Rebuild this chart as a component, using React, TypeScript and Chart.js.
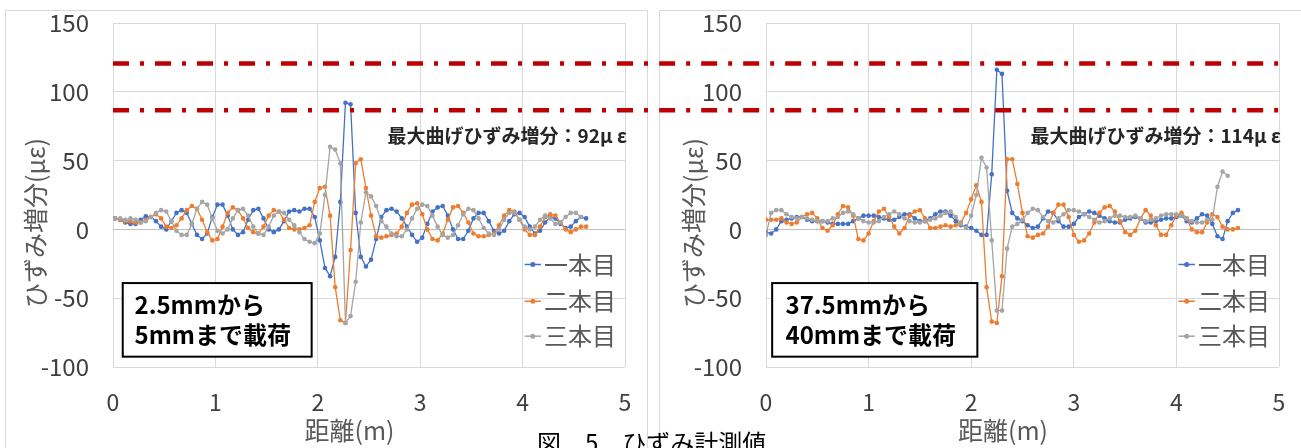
import React, { useEffect, useRef } from 'react';
import { Chart, registerables } from 'chart.js';

Chart.register(...registerables);

const FONT = '"Noto Sans CJK JP", "Noto Sans", sans-serif';

// gauge positions (m)
const DIST_LEFT = [
  0.02, 0.07, 0.12, 0.17, 0.22, 0.27, 0.32, 0.37, 0.42, 0.47,
  0.52, 0.57, 0.62, 0.67, 0.72, 0.77, 0.82, 0.87, 0.92, 0.97,
  1.02, 1.07, 1.12, 1.17, 1.22, 1.27, 1.32, 1.37, 1.42, 1.47,
  1.52, 1.57, 1.62, 1.67, 1.72, 1.77, 1.82, 1.87, 1.92, 1.97,
  2.02, 2.07, 2.12, 2.17, 2.22, 2.27, 2.32, 2.37, 2.42, 2.47,
  2.52, 2.57, 2.62, 2.67, 2.72, 2.77, 2.82, 2.87, 2.92, 2.97,
  3.02, 3.07, 3.12, 3.17, 3.22, 3.27, 3.32, 3.37, 3.42, 3.47,
  3.52, 3.57, 3.62, 3.67, 3.72, 3.77, 3.82, 3.87, 3.92, 3.97,
  4.02, 4.07, 4.12, 4.17, 4.22, 4.27, 4.32, 4.37, 4.42, 4.47,
  4.52, 4.57, 4.62,
];
const DIST_RIGHT = [
  0.0, 0.05, 0.1, 0.15, 0.2, 0.25, 0.3, 0.35, 0.4, 0.45,
  0.5, 0.55, 0.6, 0.65, 0.7, 0.75, 0.8, 0.85, 0.9, 0.95,
  1.0, 1.05, 1.1, 1.15, 1.2, 1.25, 1.3, 1.35, 1.4, 1.45,
  1.5, 1.55, 1.6, 1.65, 1.7, 1.75, 1.8, 1.85, 1.9, 1.95,
  2.0, 2.05, 2.1, 2.15, 2.2, 2.25, 2.3, 2.35, 2.4, 2.45,
  2.5, 2.55, 2.6, 2.65, 2.7, 2.75, 2.8, 2.85, 2.9, 2.95,
  3.0, 3.05, 3.1, 3.15, 3.2, 3.25, 3.3, 3.35, 3.4, 3.45,
  3.5, 3.55, 3.6, 3.65, 3.7, 3.75, 3.8, 3.85, 3.9, 3.95,
  4.0, 4.05, 4.1, 4.15, 4.2, 4.25, 4.3, 4.35, 4.4, 4.45,
  4.5, 4.55, 4.6,
];

// left chart (2.5mm -> 5mm)
const LEFT_S1 = [
  8, 7, 5, 4, 4, 7, 9.5, 9, 6, 2,
  0, 6, 12, 14, 12, 4, -4, -7, -3, 9,
  18, 18, 10, 0, -4, -2, 7, 14, 15, 8,
  0, -2, 0, 6, 13, 14, 13, 15, 15, 9,
  -8, -28, -34, -20, 20, 92, 91, 12, -20, -27,
  -22, -7, 9, 14, 15, 13, 8, 2, -4, -9,
  -6, 4, 13, 16, 17, 10, 0, -7, -7, -1,
  8, 12, 12, 6, -1, -3, -1, 6, 11, 12,
  9, 2, -3, -1, 5, 9, 8, 4, 1, 2,
  6, 9, 8,
];
const LEFT_S2 = [
  8, 7, 6, 6, 5, 5, 7, 9, 11, 8,
  2, 1, 3, 8, 14, 17, 15, 7, -2, -8,
  -7, 2, 12, 16, 14, 8, 1, -2, -3, 2,
  10, 14, 13, 7, 1, 0, 0, 1, 3, 20,
  30, 31, 10, -42, -66, -68, -15, 48, 51, 30,
  10, -5, -6, -5, -4, -3, 2, 12, 18, 19,
  11, 0, -7, -8, -3, 7, 16, 17, 12, 5,
  -3, -5, -5, -4, -3, 3, 10, 14, 13, 7,
  0, -4, -4, 2, 9, 11, 10, 5, 0, -2,
  0, 2, 2,
];
const LEFT_S3 = [
  8, 8, 7, 8, 7, 5, 6, 9, 12, 14,
  13, 6, -1, -4, -4, 4, 15, 20, 18, 8,
  -1, -3, 0, 8, 14, 15, 10, 2, -3, -4,
  2, 10, 13, 12, 7, 3, -2, -7, -9, -10,
  -3, 25, 60, 58, 48, -68, -63, -38, 5, 27,
  24, 17, 6, 2, -3, -5, -5, 0, 8, 15,
  18, 17, 10, 2, -4, -6, -4, 3, 11, 15,
  14, 8, 1, -3, -4, 0, 7, 12, 12, 7,
  2, 0, 2, 7, 10, 8, 4, 5, 9, 12,
  12, 9, null,
];

// right chart (37.5mm -> 40mm)
const RIGHT_S1 = [
  -2, -3, 0, 6, 7, 8, 9, 9, 7, 6,
  6, 6, 5, 4, 4, 4, 4, 6, 8, 10,
  10, 10, 9, 8, 7, 7, 9, 11, 11, 8,
  6, 6, 8, 11, 13, 13, 10, 6, 3, 2,
  1, -1, -4, -4, 40, 116, 113, 28, 12, 8,
  6, 3, 1, 2, 8, 13, 12, 6, 2, 2,
  4, 9, 11, 13, 12, 10, 8, 6, 5, 5,
  7, 8, 9, 8, 5, 5, 6, 7, 8, 8,
  9, 10, 6, 5, 8, 11, 10, 4, -5, -7,
  6, 12, 14,
];
const RIGHT_S2 = [
  7, 7, 7, 8, 5, 4, 5, 9, 11, 12,
  8, 1, -1, 3, 11, 17, 16, 10, -7, -8,
  -3, 6, 13, 15, 9, 2, -3, 1, 10, 13,
  14, 8, 1, 1, 2, 3, 2, 3, 5, 12,
  22, 32, 20, -42, -67, -68, -34, 51, 51, 33,
  12, -5, -6, -4, -3, 2, 12, 18, 18, 9,
  -4, -9, -8, -3, 5, 12, 16, 17, 13, 6,
  -2, -4, -1, 8, 14, 10, 3, -4, -4, 3,
  10, 12, 8, 0, -2, -2, 5, 11, 9, 2,
  0, 0, 1,
];
const RIGHT_S3 = [
  -4, 12, 14, 14, 11, 9, 8, 9, 8, 7,
  6, 6, 6, 8, 9, 12, 13, 11, 8, 6,
  5, 5, 6, 9, 11, 13, 11, 8, 6, 5,
  5, 6, 7, 8, 10, 12, 13, 9, 4, 1,
  10, 25, 52, 45, -8, -59, -59, -14, 2, 4,
  7, 12, 15, 14, 9, 6, 5, 8, 11, 14,
  14, 13, 11, 9, 7, 5, 6, 8, 10, 10,
  9, 9, 10, 8, 6, 7, 8, 10, 11, 11,
  11, 10, 8, 6, 5, 5, 7, 7, 31, 42,
  39, null, null,
];

const SERIES_NAMES = ['一本目', '二本目', '三本目'];
const SERIES_COLORS = ['#4472C4', '#ED7D31', '#A5A5A5'];
const LIMIT_LINES = [120.5, 86.6];
const X_TITLE = '距離(m)';
const Y_TITLE = 'ひずみ増分(με)';
const MAX_LABEL_LEFT = '最大曲げひずみ増分：92μ ε';
const MAX_LABEL_RIGHT = '最大曲げひずみ増分：114μ ε';
const BOX_LEFT = ['2.5mmから', '5mmまで載荷'];
const BOX_RIGHT = ['37.5mmから', '40mmまで載荷'];
const CAPTION = '図　5　ひずみ計測値';

type Side = {
  dist: number[];
  series: (number | null)[][];
  limitFrom: number;
  limitTo: number;
  dashOffset: number;
  boxX: [number, number];
  boxTextX: number;
  boxText: string[];
  maxLabel: string;
  yWidth: number;
  padRight: number;
  yTitleOffset: number;
};

function makeOverlay(side: Side) {
  return {
    id: 'overlay',
    afterDatasetsDraw(chart: any) {
      const { ctx, chartArea } = chart;
      const xs = chart.scales.x;
      const ys = chart.scales.y;
      ctx.save();

      // axis titles
      ctx.font = `25px ${FONT}`;
      ctx.fillStyle = '#595959';
      ctx.textAlign = 'center';
      ctx.textBaseline = 'middle';
      ctx.fillText(X_TITLE, xs.getPixelForValue(2.31), 430);
      ctx.save();
      ctx.translate(chartArea.left - side.yTitleOffset, 223);
      ctx.rotate(-Math.PI / 2);
      ctx.fillText(Y_TITLE, 0, 0);
      ctx.restore();

      // max label
      ctx.font = `bold 19px ${FONT}`;
      ctx.fillStyle = '#262626';
      ctx.textAlign = 'right';
      ctx.textBaseline = 'middle';
      ctx.fillText(side.maxLabel, chartArea.right + 2, ys.getPixelForValue(68.4));

      // annotation box
      const bx0 = xs.getPixelForValue(side.boxX[0]);
      const bx1 = xs.getPixelForValue(side.boxX[1]);
      const by0 = ys.getPixelForValue(-39);
      const by1 = ys.getPixelForValue(-92.5);
      ctx.fillStyle = '#ffffff';
      ctx.fillRect(bx0, by0, bx1 - bx0, by1 - by0);
      ctx.strokeStyle = '#000000';
      ctx.lineWidth = 2;
      ctx.strokeRect(bx0, by0, bx1 - bx0, by1 - by0);
      ctx.font = `bold 24px ${FONT}`;
      ctx.fillStyle = '#000000';
      ctx.textAlign = 'left';
      ctx.fillText(side.boxText[0], xs.getPixelForValue(side.boxTextX), ys.getPixelForValue(-55));
      ctx.fillText(side.boxText[1], xs.getPixelForValue(side.boxTextX), ys.getPixelForValue(-77));

      // legend
      const legendY = [-25.5, -52.2, -77.6];
      SERIES_NAMES.forEach((name, i) => {
        const py = ys.getPixelForValue(legendY[i]);
        const lx0 = xs.getPixelForValue(4.02);
        const lx1 = xs.getPixelForValue(4.18);
        ctx.strokeStyle = SERIES_COLORS[i];
        ctx.lineWidth = 1.5;
        ctx.beginPath();
        ctx.moveTo(lx0, py);
        ctx.lineTo(lx1, py);
        ctx.stroke();
        ctx.fillStyle = SERIES_COLORS[i];
        ctx.beginPath();
        ctx.arc((lx0 + lx1) / 2, py, 2.5, 0, Math.PI * 2);
        ctx.fill();
        ctx.font = `24px ${FONT}`;
        ctx.fillStyle = '#595959';
        ctx.textAlign = 'left';
        ctx.textBaseline = 'middle';
        ctx.fillText(name, xs.getPixelForValue(4.21), py);
      });
      ctx.restore();
    },
  };
}

function makeConfig(side: Side): any {
  const datasets: any[] = side.series.map((s, i) => ({
    label: SERIES_NAMES[i],
    data: side.dist.map((x, j) => ({ x, y: s[j] })),
    borderColor: SERIES_COLORS[i],
    backgroundColor: SERIES_COLORS[i],
    pointBackgroundColor: SERIES_COLORS[i],
    pointBorderWidth: 0,
    pointRadius: 2.3,
    borderWidth: 1.3,
    tension: 0,
    spanGaps: false,
    order: 3 - i,
  }));
  LIMIT_LINES.forEach((v) => {
    datasets.push({
      label: 'limit',
      data: [
        { x: side.limitFrom, y: v },
        { x: side.limitTo, y: v },
      ],
      borderColor: '#C00000',
      borderWidth: 4.5,
      borderDash: [16, 11, 4, 11],
      borderDashOffset: side.dashOffset,
      borderCapStyle: 'butt',
      pointRadius: 0,
      clip: false,
      order: 0,
    });
  });
  return {
    type: 'line',
    data: { datasets },
    plugins: [makeOverlay(side)],
    options: {
      responsive: false,
      animation: false,
      devicePixelRatio: 1,
      events: [],
      layout: { padding: { left: 0, right: side.padRight, top: 23, bottom: 0 } },
      plugins: { legend: { display: false }, tooltip: { enabled: false } },
      scales: {
        x: {
          type: 'linear',
          min: 0,
          max: 5,
          afterFit: (scale: any) => {
            scale.height = 81;
          },
          ticks: {
            stepSize: 1,
            font: { family: FONT, size: 23 },
            color: '#404040',
            padding: 0,
          },
          grid: {
            color: '#D9D9D9',
            drawTicks: true,
            tickLength: 21,
            tickColor: 'rgba(0,0,0,0)',
            lineWidth: 1,
          },
          border: { display: false },
          title: { display: false },
        },
        y: {
          type: 'linear',
          min: -100,
          max: 150,
          afterFit: (scale: any) => {
            scale.width = side.yWidth;
          },
          ticks: {
            stepSize: 50,
            font: { family: FONT, size: 24 },
            color: '#404040',
            padding: 0,
          },
          grid: {
            color: (c: any) => (c.tick && c.tick.value === 0 ? '#BFBFBF' : '#D9D9D9'),
            drawTicks: true,
            tickLength: 24,
            tickColor: 'rgba(0,0,0,0)',
            lineWidth: 1,
          },
          border: { display: false },
          title: { display: false },
        },
      },
    },
  };
}

export default function App() {
  const leftRef = useRef<HTMLCanvasElement>(null);
  const rightRef = useRef<HTMLCanvasElement>(null);

  useEffect(() => {
    const left = new Chart(
      leftRef.current as HTMLCanvasElement,
      makeConfig({
        dist: DIST_LEFT,
        series: [LEFT_S1, LEFT_S2, LEFT_S3],
        limitFrom: 0,
        limitTo: 5.4,
        dashOffset: 0,
        boxX: [0.095, 1.94],
        boxTextX: 0.21,
        boxText: BOX_LEFT,
        maxLabel: MAX_LABEL_LEFT,
        yWidth: 113,
        padRight: 30,
        yTitleOffset: 78,
      })
    );
    const right = new Chart(
      rightRef.current as HTMLCanvasElement,
      makeConfig({
        dist: DIST_RIGHT,
        series: [RIGHT_S1, RIGHT_S2, RIGHT_S3],
        limitFrom: -1.09,
        limitTo: 5,
        dashOffset: 37,
        boxX: [0.06, 2.06],
        boxTextX: 0.19,
        boxText: BOX_RIGHT,
        maxLabel: MAX_LABEL_RIGHT,
        yWidth: 111,
        padRight: 22,
        yTitleOffset: 73,
      })
    );
    return () => {
      left.destroy();
      right.destroy();
    };
  }, []);

  return (
    <div
      style={{
        position: 'fixed',
        left: 0,
        top: 0,
        width: 1301,
        height: 448,
        background: '#ffffff',
        overflow: 'hidden',
      }}
    >
      <div
        style={{
          position: 'absolute',
          left: 5,
          top: 10,
          width: 641,
          height: 460,
          border: '1px solid #D9D9D9',
        }}
      />
      <div
        style={{
          position: 'absolute',
          left: 659,
          top: 10,
          width: 660,
          height: 460,
          border: '1px solid #D9D9D9',
        }}
      />
      <div style={{ position: 'absolute', left: 0, top: 0, width: 655, height: 448 }}>
        <canvas ref={leftRef} width={655} height={448} style={{ display: 'block' }} />
      </div>
      <div style={{ position: 'absolute', left: 655, top: 0, width: 646, height: 448 }}>
        <canvas ref={rightRef} width={646} height={448} style={{ display: 'block' }} />
      </div>
      <div
        style={{
          position: 'absolute',
          left: 537,
          top: 428,
          fontFamily: FONT,
          fontSize: 24,
          lineHeight: '28px',
          color: '#000000',
          whiteSpace: 'pre',
        }}
      >
        {CAPTION}
      </div>
    </div>
  );
}
